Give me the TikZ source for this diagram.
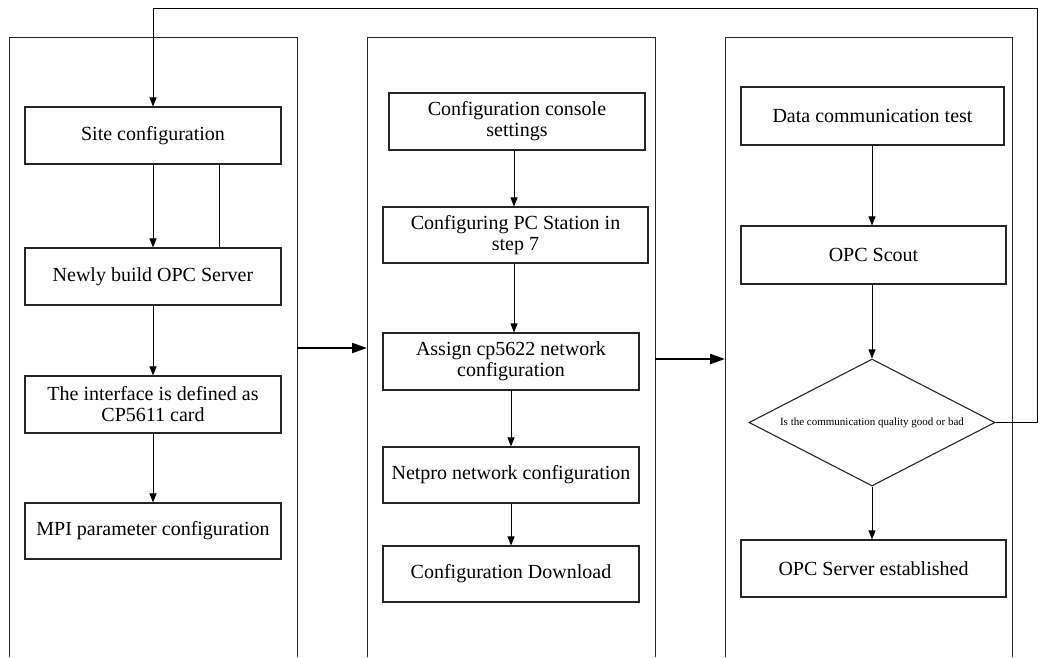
\documentclass[tikz,border=0pt]{standalone}
\usepackage{fontspec}
\setmainfont{Liberation Serif}
\usetikzlibrary{arrows.meta,shapes.geometric}
\begin{document}
\begin{tikzpicture}[x=1pt,y=-1pt,
  box/.style={draw=black!85, line width=1.1pt, fill=white, align=center,
    font=\fontsize{20}{21}\selectfont, inner sep=0pt, rectangle},
  col/.style={draw=black!85, line width=1pt},
  arr/.style={-{Triangle[length=9pt,width=7pt]}, line width=0.9pt},
  plain/.style={line width=0.9pt},
  bigarr/.style={-{Triangle[length=15pt,width=10pt]}, line width=2.2pt},
]
\useasboundingbox (0,0) rectangle (1038,657);

% column frames
\draw[col] (9,657) -- (9,37) -- (297,37) -- (297,657);
\draw[col] (367,657) -- (367,37) -- (655,37) -- (655,657);
\draw[col] (725,657) -- (725,37) -- (1012,37) -- (1012,657);

% column 1
\node[box, minimum width=256pt, minimum height=57pt] (site) at (153,135.5) {Site configuration};
\node[box, minimum width=256pt, minimum height=57pt] (newly) at (153,276.5) {Newly build OPC Server};
\node[box, minimum width=256pt, minimum height=57pt] (iface) at (153,404.5) {The interface is defined as\\CP5611 card};
\node[box, minimum width=256pt, minimum height=56pt] (mpi) at (153,531) {MPI parameter configuration};

% column 2
\node[box, minimum width=256pt, minimum height=57pt] (console) at (517,121.5) {Configuration console\\settings};
\node[box, minimum width=265pt, minimum height=56pt] (pc) at (515.5,235) {Configuring PC Station in\\step 7};
\node[box, minimum width=256pt, minimum height=57pt] (assign) at (511,361.5) {Assign cp5622 network\\configuration};
\node[box, minimum width=256pt, minimum height=56pt] (netpro) at (511,475) {Netpro network configuration};
\node[box, minimum width=256pt, minimum height=56pt] (download) at (511,574) {Configuration Download};

% column 3
\node[box, minimum width=263pt, minimum height=58pt] (data) at (872.5,116) {Data communication test};
\node[box, minimum width=265pt, minimum height=58pt] (scout) at (873.5,255) {OPC Scout};
\node[draw=black!85, line width=1.1pt, fill=white, diamond, aspect=1.94, inner sep=0pt,
  minimum width=246pt, minimum height=127pt, font=\fontsize{11}{12}\selectfont] (dia) at (872,422.5) {Is the communication quality good or bad};
\node[box, minimum width=265pt, minimum height=57pt] (est) at (873.5,568.5) {OPC Server established};

% arrows column 1
\draw[arr] (site.south) -- (newly.north);
\draw[plain] ([xshift=66pt]site.south) -- ([xshift=66pt]newly.north);
\draw[arr] (newly.south) -- (iface.north);
\draw[arr] (iface.south) -- (mpi.north);

% arrows column 2
\draw[arr] ([xshift=-3pt]console.south) -- ([xshift=-3pt]console.south |- pc.north);
\draw[arr] ([xshift=-1.5pt]pc.south) -- ([xshift=-1.5pt]pc.south |- assign.north);
\draw[arr] (assign.south) -- (netpro.north);
\draw[arr] (netpro.south) -- (download.north);

% arrows column 3
\draw[arr] ([xshift=-0.5pt]data.south) -- ([xshift=-0.5pt]data.south |- scout.north);
\draw[arr] ([xshift=-1.5pt]scout.south) -- (dia.north);
\draw[arr] (dia.south) -- (dia.south |- est.north);

% feedback loop
\coordinate (fbR) at (1037,422.5);
\coordinate (fbT) at (1037,8);
\coordinate (fbL) at (153,8);
\draw[arr] (dia.east) -- (fbR) -- (fbT) -- (fbL) -- (site.north);

% thick arrows between columns
\coordinate (a1s) at (297,348);
\coordinate (a1e) at (367,348);
\coordinate (a2s) at (655,359);
\coordinate (a2e) at (725,359);
\draw[bigarr] (a1s) -- (a1e);
\draw[bigarr] (a2s) -- (a2e);
\end{tikzpicture}
\end{document}
